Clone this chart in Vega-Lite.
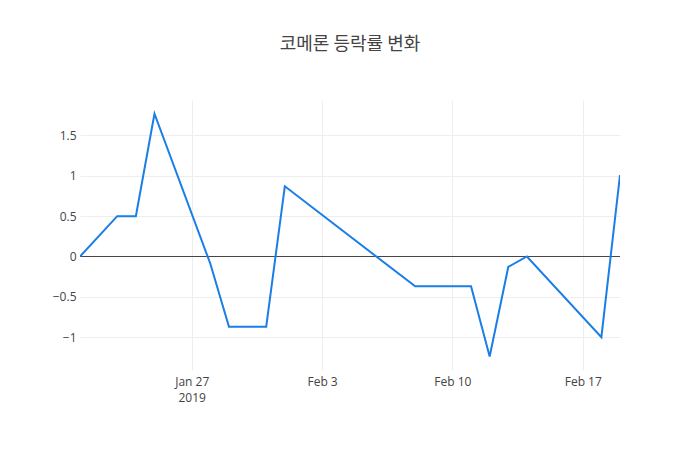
{
  "$schema": "https://vega.github.io/schema/vega-lite/v6.json",
  "autosize": {"type": "none"},
  "width": 540,
  "height": 270,
  "padding": {"left": 80, "top": 100, "right": 80, "bottom": 80},
  "background": "white",
  "title": {
    "text": "코메론 등락률 변화",
    "font": "Noto Sans CJK KR",
    "fontSize": 18,
    "fontWeight": "normal",
    "color": "#444",
    "anchor": "middle",
    "offset": 46
  },
  "config": {
    "view": {"stroke": null},
    "axis": {
      "labelFont": "Open Sans",
      "labelFontSize": 12,
      "labelColor": "#444",
      "gridColor": "#eee",
      "gridWidth": 1,
      "domain": false,
      "ticks": false
    }
  },
  "data": {
    "values": [
      {"date": "2019-01-21", "rate": 0},
      {"date": "2019-01-23", "rate": 0.5},
      {"date": "2019-01-24", "rate": 0.5},
      {"date": "2019-01-25", "rate": 1.77},
      {"date": "2019-01-28", "rate": -0.09},
      {"date": "2019-01-29", "rate": -0.87},
      {"date": "2019-01-31", "rate": -0.87},
      {"date": "2019-02-01", "rate": 0.87},
      {"date": "2019-02-08", "rate": -0.37},
      {"date": "2019-02-11", "rate": -0.37},
      {"date": "2019-02-12", "rate": -1.24},
      {"date": "2019-02-13", "rate": -0.13},
      {"date": "2019-02-14", "rate": 0},
      {"date": "2019-02-18", "rate": -1.0},
      {"date": "2019-02-19", "rate": 1.01}
    ]
  },
  "layer": [
    {
      "mark": {"type": "rule", "color": "#444", "strokeWidth": 1},
      "data": {"values": [{"z": 0}]},
      "encoding": {"y": {"field": "z", "type": "quantitative"}}
    },
    {
      "mark": {"type": "line", "color": "#1a7ee6", "strokeWidth": 2, "clip": true},
      "encoding": {
        "x": {
          "field": "date",
          "type": "temporal",
          "scale": {
            "type": "utc",
            "domain": [
              {"year": 2019, "month": "Jan", "date": 21, "utc": true},
              {"year": 2019, "month": "Feb", "date": 19, "utc": true}
            ]
          },
          "axis": {
            "title": null,
            "values": [
              {"year": 2019, "month": "Jan", "date": 27, "utc": true},
              {"year": 2019, "month": "Feb", "date": 3, "utc": true},
              {"year": 2019, "month": "Feb", "date": 10, "utc": true},
              {"year": 2019, "month": "Feb", "date": 17, "utc": true}
            ],
            "labelExpr": "datum.index == 0 ? [utcFormat(datum.value, '%b %-d'), '2019'] : utcFormat(datum.value, '%b %-d')",
            "labelPadding": 6,
            "labelLineHeight": 16
          }
        },
        "y": {
          "field": "rate",
          "type": "quantitative",
          "scale": {"domain": [-1.407, 1.94], "nice": false, "zero": false},
          "axis": {
            "title": null,
            "values": [-1, -0.5, 0, 0.5, 1, 1.5],
            "labelExpr": "replace(format(datum.value, '~g'), '-', '\u2212')",
            "labelPadding": 4
          }
        }
      }
    }
  ]
}
